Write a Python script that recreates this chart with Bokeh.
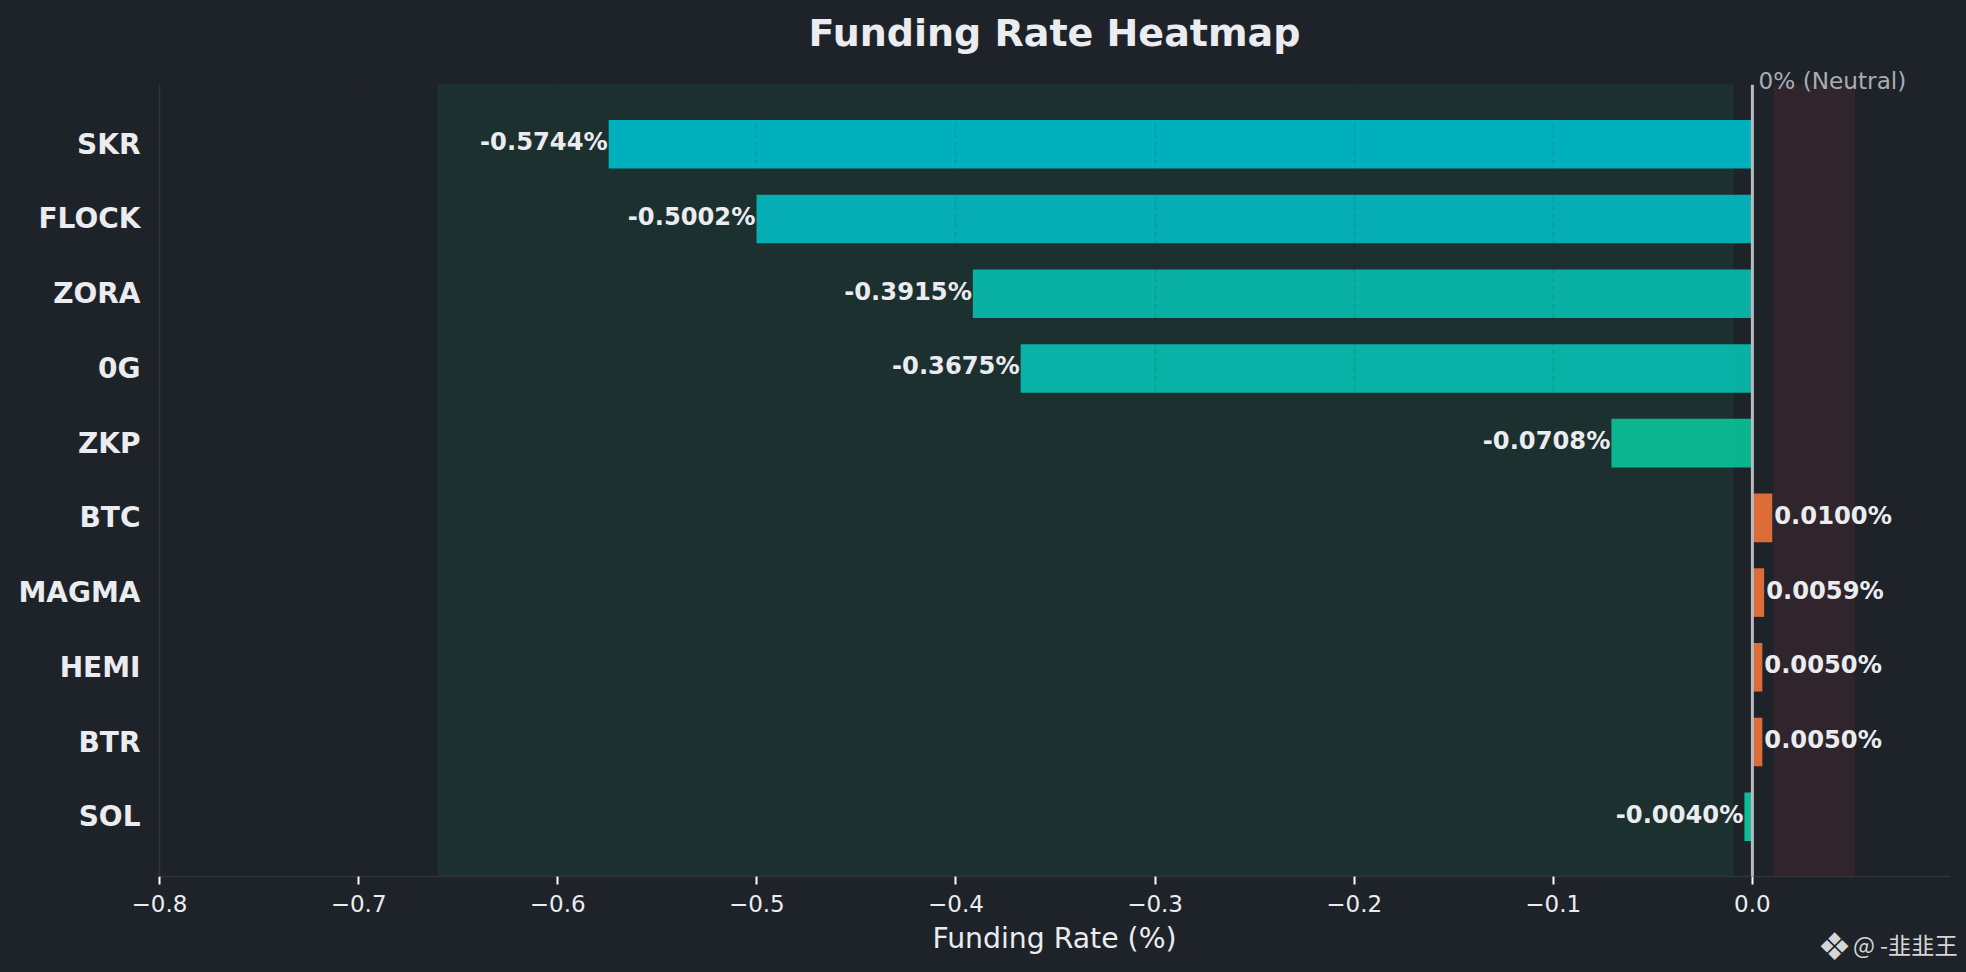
from bokeh.plotting import figure
from bokeh.models import (BoxAnnotation, ColumnDataSource, FactorRange, FixedTicker, LinearAxis,
                          Range1d, Span)
from bokeh.core.properties import value
from bokeh.embed import file_html
from bokeh.resources import INLINE

symbols = ["SKR", "FLOCK", "ZORA", "0G", "ZKP", "BTC", "MAGMA", "HEMI", "BTR", "SOL"]
rates = [-0.5744, -0.5002, -0.3915, -0.3675, -0.0708, 0.0100, 0.0059, 0.0050, 0.0050, -0.0040]
x_ticks = [-0.8, -0.7, -0.6, -0.5, -0.4, -0.3, -0.2, -0.1, 0.0]
x_tick_labels = ["\u22120.8", "\u22120.7", "\u22120.6", "\u22120.5", "\u22120.4", "\u22120.3", "\u22120.2", "\u22120.1", "0.0"]
bar_colors = ["#00b2c0", "#05b0b8", "#08b4a6", "#09b5a8", "#0ab892", "#e06f3a", "#e06f3a", "#e06f3a", "#e06f3a", "#0fbf9b"]
long_zone = (-0.66, -0.01)
short_zone = (0.011, 0.0512)

BG = "#1e2329"
TEXT = "#eaecef"
DIM = "#2f343c"
FONT = "DejaVu Sans"

p = figure(width=1966, height=972, output_backend="svg", toolbar_location=None,
           x_range=Range1d(-0.8, 0.099),
           y_range=FactorRange(factors=symbols[::-1], range_padding=0.06, range_padding_units="percent"),
           min_border_left=159, min_border_right=17, min_border_top=84, min_border_bottom=96,
           background_fill_color=BG, border_fill_color=BG, outline_line_color=None,
           title="Funding Rate Heatmap")

p.title.text_font = FONT
p.title.text_font_size = "38px"
p.title.text_font_style = "bold"
p.title.text_color = TEXT
p.title.align = "center"
p.title.standoff = 17

p.add_layout(BoxAnnotation(left=long_zone[0], right=long_zone[1], fill_color="#0ecb81", fill_alpha=0.08,
                           line_color="#0ecb81", line_alpha=0.08, line_width=1.5, level="underlay"))
p.add_layout(BoxAnnotation(left=short_zone[0], right=short_zone[1], fill_color="#f6465d", fill_alpha=0.09,
                           line_color="#f6465d", line_alpha=0.06, line_width=1.5, level="underlay"))

source = ColumnDataSource(dict(
    symbol=symbols, rate=rates, color=bar_colors,
    label=[f"{r:.4f}%" for r in rates],
    align=["right" if r < 0 else "left" for r in rates],
    offset=[-1 if r < 0 else 2 for r in rates],
))
p.hbar(y="symbol", left=0, right="rate", height=0.65, fill_color="color", fill_alpha=0.98,
       line_color=None, source=source)

p.xgrid.ticker = FixedTicker(ticks=x_ticks)
p.xgrid.grid_line_color = BG
p.xgrid.grid_line_alpha = 0.12
p.xgrid.grid_line_width = 1.6
p.xgrid.grid_line_dash = "6 3"
p.xgrid.level = "overlay"
p.ygrid.visible = False

p.add_layout(Span(location=0, dimension="height", line_color="#b8babd", line_width=3, level="overlay"))

p.text(x="rate", y="symbol", text="label", text_align="align", x_offset="offset", y_offset=-2,
       text_baseline="middle", text_font=value(FONT), text_font_style="bold", text_font_size="24.2px",
       text_color=TEXT, source=source, level="overlay")

xa = p.xaxis[0]
xa.ticker = FixedTicker(ticks=x_ticks)
xa.major_label_overrides = dict(zip(x_ticks, x_tick_labels))
xa.axis_label = "Funding Rate (%)"
xa.axis_label_text_font = FONT
xa.axis_label_text_font_size = "28.3px"
xa.axis_label_text_font_style = "normal"
xa.axis_label_text_color = TEXT
xa.axis_label_standoff = 7
xa.major_label_text_font = FONT
xa.major_label_text_font_size = "23px"
xa.major_label_text_color = TEXT
xa.major_label_standoff = 10
xa.axis_line_color = DIM
xa.axis_line_width = 1.6
xa.major_tick_line_color = "#ffffff"
xa.major_tick_line_width = 2
xa.major_tick_in = 0
xa.major_tick_out = 8
xa.minor_tick_line_color = None

ya = p.yaxis[0]
ya.major_label_text_font = FONT
ya.major_label_text_font_size = "28px"
ya.major_label_text_font_style = "bold"
ya.major_label_text_color = TEXT
ya.major_label_standoff = 19
ya.axis_line_color = DIM
ya.axis_line_width = 1.6
ya.major_tick_line_color = None
ya.minor_tick_line_color = None
ya.major_tick_in = 0
ya.major_tick_out = 0


def text_axis(at, text, font, size, color, standoff):
    """A bare axis with one tick, used to place a text outside the plot frame."""
    return LinearAxis(ticker=FixedTicker(ticks=[at]), major_label_overrides={at: text},
                      major_label_text_font=font, major_label_text_font_size=size,
                      major_label_text_color=color, major_label_standoff=standoff,
                      axis_line_color=None, major_tick_line_color=None, minor_tick_line_color=None,
                      major_tick_in=0, major_tick_out=0)


p.add_layout(text_axis(0.0402, "0% (Neutral)", FONT, "23.2px", "#a9adb3", -9), "above")

# Watermark below the plot frame: the text, then the logo mark
p.add_layout(text_axis(0.0768, "@ -韭韭王", "Noto Sans CJK SC", "23.2px", "#d6d6d6", -31), "below")
p.add_layout(text_axis(0.0412, "\u2756", FONT, "38px", "#d6d6d6", -39), "below")

html = file_html(p, INLINE)
html = html.replace("<head>", f"<head><style>html,body{{background:{BG};}}</style>", 1)
open("out.html", "w").write(html)
